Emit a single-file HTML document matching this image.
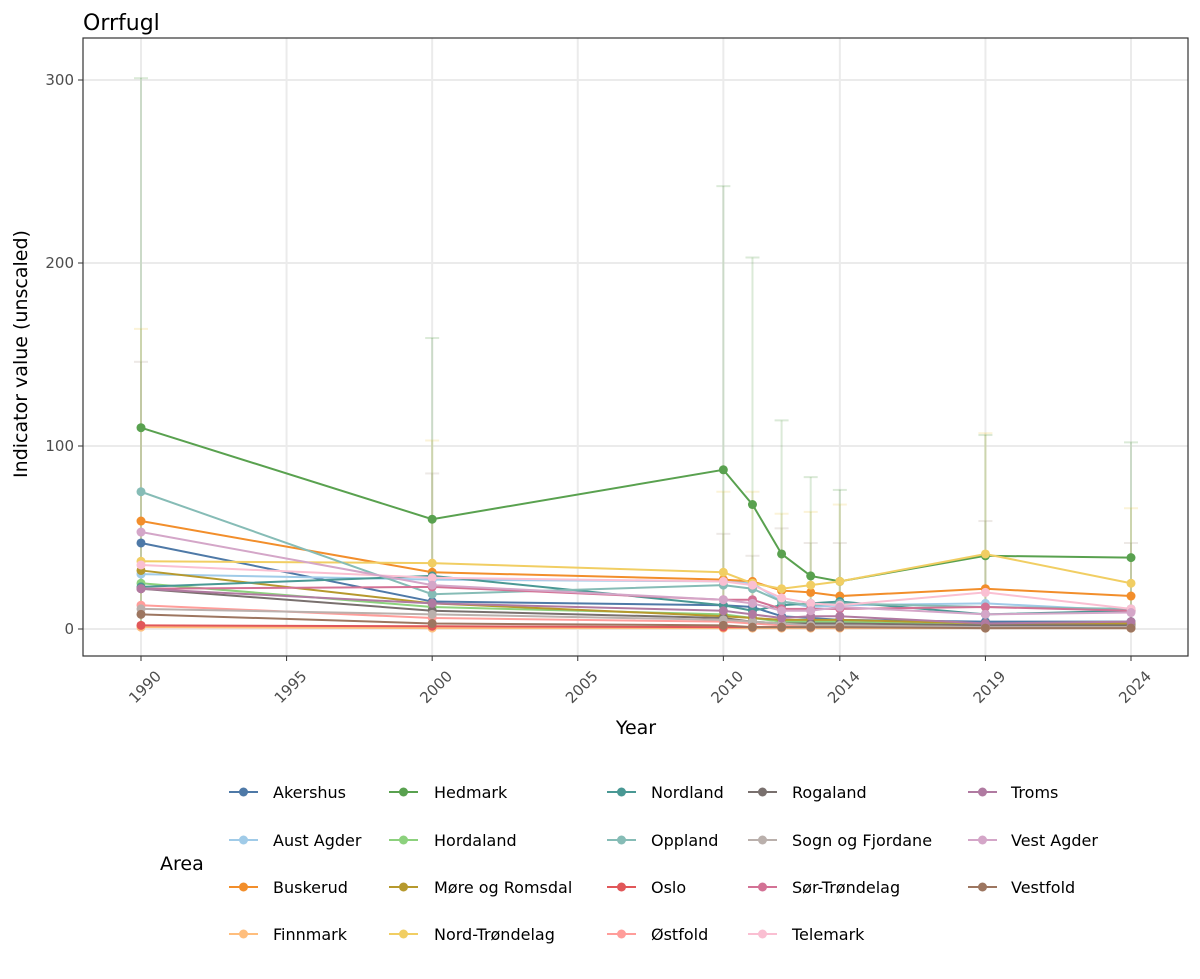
<!DOCTYPE html>
<html><head><meta charset="utf-8"><style>
body{margin:0;background:#fff;font-family:"DejaVu Sans",sans-serif;}
</style></head><body>
<svg id="s" width="1200" height="975" xmlns="http://www.w3.org/2000/svg" font-family="DejaVu Sans, sans-serif"></svg>
<script>
const s=document.getElementById('s');
const X=y=>141+(y-1990)*990/34, Y=v=>629-v*1.83;
let h='';
h+='<text x="83" y="30" font-size="22" fill="#000">Orrfugl</text>';
[1990,1995,2000,2005,2010,2014,2019,2024].forEach(t=>{h+=`<line x1="${X(t)}" x2="${X(t)}" y1="38" y2="656" stroke="#ebebeb" stroke-width="2"/>`;});
[0,100,200,300].forEach(t=>{h+=`<line x1="83" x2="1188" y1="${Y(t)}" y2="${Y(t)}" stroke="#ebebeb" stroke-width="2"/>`;});
const yrs=[1990,2000,2010,2011,2012,2013,2014,2019,2024];
const S=[
["Akershus","#4e79a7",[47,15,13,12,7,6,5,4,4]],
["Aust Agder","#a0cbe8",[30,27,26,25,15,12,13,14,10]],
["Buskerud","#f28e2b",[59,31,27,26,21,20,18,22,18]],
["Finnmark","#ffbe7d",[1,0.5,0.5,0.5,0.5,0.5,0.5,0.5,0.5]],
["Hedmark","#59a14f",[110,60,87,68,41,29,26,40,39]],
["Hordaland","#8cd17d",[25,12,8,6,4,4,4,2,2]],
["Møre og Romsdal","#b6992d",[32,14,7,6,5,5,5,3,3]],
["Nord-Trøndelag","#f1ce63",[37,36,31,25,22,24,26,41,25]],
["Nordland","#499894",[23,29,13,10,13,14,15,8,10]],
["Oppland","#86bcb6",[75,19,24,22,15,13,14,12,11]],
["Oslo","#e15759",[2,1.5,1,1,1,1,1,1,1]],
["Østfold","#ff9d9a",[13,6,4,3,2,2,2,1,1]],
["Rogaland","#79706e",[22,10,6,4,3,3,3,2,2]],
["Sogn og Fjordane","#bab0ac",[11,8,5,4,3,2,2,1,1]],
["Sør-Trøndelag","#d37295",[22,23,16,16,11,11,11,12,10]],
["Telemark","#fabfd2",[35,28,26,24,17,14,13,20,11]],
["Troms","#b07aa1",[22,14,10,8,6,7,7,3,4]],
["Vest Agder","#d4a6c8",[53,24,16,14,10,10,12,8,9]],
["Vestfold","#9d7660",[8,3,2,1,1,1,1,0.5,0.5]]];
const ebH=[301,159,242,203,114,83,76,106,102], ebN=[164,103,75,75,63,64,68,107,66], ebB=[146,85,52,40,55,47,47,59,47];
function eb(arr,c,op){arr.forEach((u,i)=>{const x=X(yrs[i]);h+=`<g stroke="${c}" stroke-opacity="${op}" stroke-width="2"><line x1="${x}" x2="${x}" y1="${Y(u)}" y2="${Y(0)}"/><line x1="${x-7}" x2="${x+7}" y1="${Y(u)}" y2="${Y(u)}"/></g>`;});}
eb(ebN,"#f1ce63",0.25);eb(ebB,"#b7a99a",0.25);eb(ebH,"#59a14f",0.22);
S.forEach(([n,c,v])=>{h+=`<polyline fill="none" stroke="${c}" stroke-width="2" points="${v.map((d,i)=>X(yrs[i])+','+Y(d)).join(' ')}"/>`;});
S.forEach(([n,c,v])=>{v.forEach((d,i)=>{h+=`<circle cx="${X(yrs[i])}" cy="${Y(d)}" r="4.5" fill="${c}"/>`;});});
h+='<rect x="83" y="38" width="1105" height="618" fill="none" stroke="#333" stroke-width="1.2"/>';
[0,100,200,300].forEach(t=>{h+=`<line x1="78" x2="83" y1="${Y(t)}" y2="${Y(t)}" stroke="#333"/><text x="74" y="${Y(t)+5}" text-anchor="end" font-size="15" fill="#4d4d4d">${t}</text>`;});
[1990,1995,2000,2005,2010,2014,2019,2024].forEach(t=>{const x=X(t);h+=`<line x1="${x}" x2="${x}" y1="656" y2="661" stroke="#333"/><text transform="translate(${x+14},${670}) rotate(-45)" text-anchor="end" dy="10" font-size="15" fill="#4d4d4d">${t}</text>`;});
h+='<text x="636" y="734" text-anchor="middle" font-size="19">Year</text>';
h+='<text transform="translate(27,354) rotate(-90)" text-anchor="middle" font-size="19">Indicator value (unscaled)</text>';
h+='<text x="160" y="870" font-size="19">Area</text>';
const cols=[[229,273],[389,434],[607,651],[748,792],[968,1011]], rows=[792,840,887,934];
S.forEach(([n,c],i)=>{const [lx,tx]=cols[Math.floor(i/4)], cy=rows[i%4];
h+=`<line x1="${lx}" x2="${lx+29}" y1="${cy}" y2="${cy}" stroke="${c}" stroke-width="2"/><circle cx="${lx+14.5}" cy="${cy}" r="4.5" fill="${c}"/><text x="${tx}" y="${cy+6}" font-size="16">${n}</text>`;});
s.innerHTML=h;
</script>
</body></html>
